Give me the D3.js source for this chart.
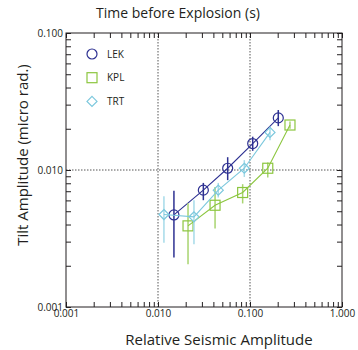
<!DOCTYPE html>
<html>
<head>
<meta charset="utf-8">
<script src="https://cdn.jsdelivr.net/npm/d3@7"></script>
<style>
  body { margin: 0; background: #fff; }
  text { font-family: "Open Sans", sans-serif; fill: #231f20; }
</style>
</head>
<body>
<svg id="chart"></svg>
<script>
// series: relative seismic amplitude (x), tilt amplitude (y), error bar low/high
var lekX  = [0.0149, 0.0311, 0.0572, 0.107, 0.203];
var lekY  = [0.00470, 0.00713, 0.0103, 0.0156, 0.0240];
var lekLo = [0.00230, 0.00602, 0.00843, 0.0138, 0.0209];
var lekHi = [0.00705, 0.00805, 0.0124, 0.0175, 0.0274];

var kplX  = [0.0212, 0.0417, 0.0832, 0.156, 0.272];
var kplY  = [0.00391, 0.00553, 0.00685, 0.0103, 0.0213];
var kplLo = [0.00205, 0.00374, 0.00570, 0.00882, 0.0200];
var kplHi = [0.00573, 0.00750, 0.00788, 0.01135, 0.0226];

var trtX  = [0.0116, 0.0246, 0.0452, 0.0867, 0.165];
var trtY  = [0.00473, 0.00455, 0.00713, 0.0103, 0.0188];
var trtLo = [0.00294, 0.00287, 0.00630, 0.00890, 0.0165];
var trtHi = [0.00644, 0.00602, 0.00805, 0.0118, 0.0207];

var names = ["LEK", "KPL", "TRT"];
var majorTicks = [0.001, 0.01, 0.1, 1];
var gridX = [0.01, 0.1];
var gridY = [0.01];

var width = 358, height = 350;
var pLeft = 66, pRight = 342, pTop = 33, pBottom = 307;

var svg = d3.select("#chart").attr("width", width).attr("height", height);

var x = d3.scaleLog().domain([0.001, 1]).range([pLeft, pRight]);
var y = d3.scaleLog().domain([0.001, 0.1]).range([pBottom, pTop]);

function pack(xs, ys, lo, hi) {
    return xs.map(function(d, i) { return {x: d, y: ys[i], lo: lo[i], hi: hi[i]}; });
}
var series = [
    {name: names[0], pts: pack(lekX, lekY, lekLo, lekHi), color: "#2e3192", bar: "#2e3192", shape: "circle"},
    {name: names[1], pts: pack(kplX, kplY, kplLo, kplHi), color: "#8cc63f", bar: "#a8d46f", shape: "square"},
    {name: names[2], pts: pack(trtX, trtY, trtLo, trtHi), color: "#7cc8dd", bar: "#a6dbe9", shape: "diamond"}
];

// dotted grid lines
svg.selectAll(".gx").data(gridX).enter().append("line")
    .attr("x1", x).attr("x2", x).attr("y1", pTop).attr("y2", pBottom)
    .attr("stroke", "#555").attr("stroke-dasharray", "1.5,1.5");
svg.selectAll(".gy").data(gridY).enter().append("line")
    .attr("x1", pLeft).attr("x2", pRight).attr("y1", y).attr("y2", y)
    .attr("stroke", "#555").attr("stroke-dasharray", "1.5,1.5");

// axes, ticks pointing inward; labels only on decades
var fmt = function(d) {
    var isMajor = majorTicks.some(function(m) { return Math.abs(m - d) / m < 1e-6; });
    return isMajor ? d3.format(".3f")(d) : "";
};
var noLab = function() { return ""; };

function styleAxis(g) {
    g.select(".domain").remove();
    g.selectAll(".tick line").attr("stroke", "#231f20");
    g.selectAll(".tick text").style("font-size", "10px").attr("fill", "#231f20");
}

svg.append("g").attr("transform", "translate(0," + pBottom + ")")
    .call(d3.axisBottom(x).tickSize(-5).tickPadding(3).tickFormat(fmt)).call(styleAxis);
svg.append("g").attr("transform", "translate(0," + pTop + ")")
    .call(d3.axisTop(x).tickSize(-5).tickFormat(noLab)).call(styleAxis);
svg.append("g").attr("transform", "translate(" + pLeft + ",0)")
    .call(d3.axisLeft(y).tickSize(-5).tickPadding(3).tickFormat(fmt)).call(styleAxis);
svg.append("g").attr("transform", "translate(" + pRight + ",0)")
    .call(d3.axisRight(y).tickSize(-5).tickFormat(noLab)).call(styleAxis);

svg.append("rect").attr("x", pLeft).attr("y", pTop)
    .attr("width", pRight - pLeft).attr("height", pBottom - pTop)
    .attr("fill", "none").attr("stroke", "#231f20").attr("stroke-width", 1);

// series
var line = d3.line().x(function(d) { return x(d.x); }).y(function(d) { return y(d.y); });

function marker(sel, shape, color) {
    if (shape === "circle") {
        sel.append("circle").attr("r", 5);
    } else if (shape === "square") {
        sel.append("rect").attr("x", -5).attr("y", -5).attr("width", 10).attr("height", 10);
    } else {
        sel.append("path").attr("d", "M0,-5L5,0L0,5L-5,0Z");
    }
    sel.selectAll("*").attr("fill", "none").attr("stroke", color).attr("stroke-width", 1.2);
}

series.forEach(function(s) {
    var g = svg.append("g");
    g.selectAll(".err").data(s.pts).enter().append("line")
        .attr("x1", function(d) { return x(d.x); }).attr("x2", function(d) { return x(d.x); })
        .attr("y1", function(d) { return y(d.lo); }).attr("y2", function(d) { return y(d.hi); })
        .attr("stroke", s.bar).attr("stroke-width", 1.5);
    g.append("path").datum(s.pts).attr("d", line)
        .attr("fill", "none").attr("stroke", s.color).attr("stroke-width", 1.1);
    g.selectAll(".pt").data(s.pts).enter().append("g")
        .attr("transform", function(d) { return "translate(" + x(d.x) + "," + y(d.y) + ")"; })
        .each(function() { marker(d3.select(this), s.shape, s.color); });
});

// legend
var leg = svg.selectAll(".leg").data(series).enter().append("g")
    .attr("transform", function(d, i) { return "translate(92," + (54 + i * 23.7) + ")"; });
leg.each(function(d) { marker(d3.select(this), d.shape, d.color); });
leg.append("text").attr("x", 15).attr("dy", "0.35em").style("font-size", "10px").text(function(d) { return d.name; });

// titles
svg.append("text").attr("x", 178).attr("y", 18).attr("text-anchor", "middle")
    .style("font-size", "14px").text("Time before Explosion (s)");
svg.append("text").attr("x", 219).attr("y", 345).attr("text-anchor", "middle")
    .style("font-size", "15px").text("Relative Seismic Amplitude");
svg.append("text").attr("transform", "translate(28,155) rotate(-90)").attr("text-anchor", "middle")
    .style("font-size", "15px").text("Tilt Amplitude (micro rad.)");
</script>
</body>
</html>
